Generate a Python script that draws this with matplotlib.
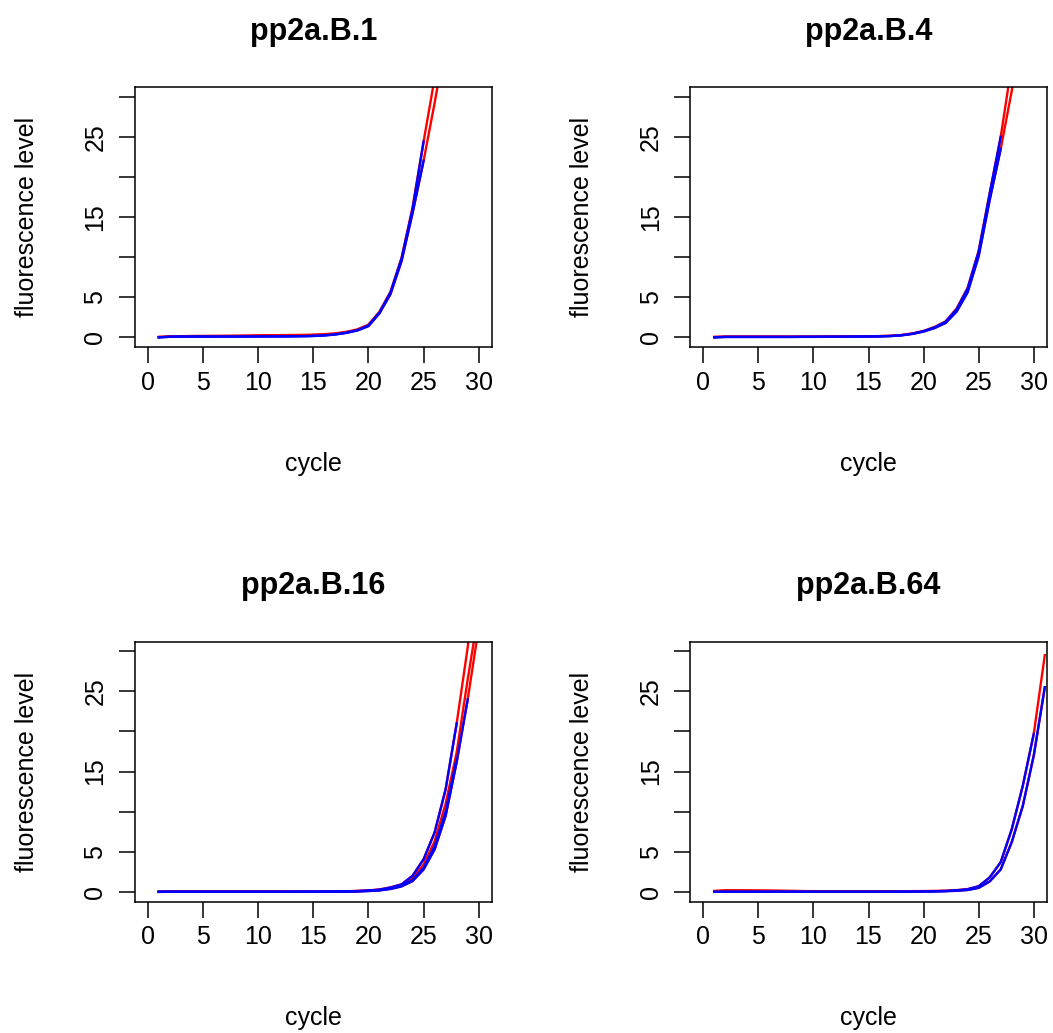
import numpy as np
import matplotlib
matplotlib.use("Agg")
import matplotlib.pyplot as plt

plt.rcParams['font.family'] = ['Liberation Sans', 'DejaVu Sans']

# fluorescence per cycle, red = raw runs, blue = fitted runs
cycles = np.arange(1, 32)

titles = ["pp2a.B.1", "pp2a.B.4", "pp2a.B.16", "pp2a.B.64"]

b1_red_a = [0.05, 0.12, 0.15, 0.17, 0.18, 0.19, 0.2, 0.21, 0.23, 0.26, 0.27, 0.28, 0.29, 0.31, 0.34, 0.4, 0.5, 0.7, 1.0, 1.6, 3.2, 5.7, 9.9, 16.2, 24.4, 32.3, 40, 46, 50, 52, 53]
b1_red_b = [0.05, 0.1, 0.12, 0.13, 0.14, 0.15, 0.15, 0.16, 0.17, 0.2, 0.21, 0.22, 0.23, 0.25, 0.28, 0.33, 0.42, 0.6, 0.9, 1.4, 3.0, 5.4, 9.5, 15.5, 22.0, 29.2, 37, 44, 48, 50, 51]
b1_blue_a = [0.0, 0.08, 0.1, 0.1, 0.1, 0.1, 0.1, 0.1, 0.11, 0.11, 0.12, 0.12, 0.13, 0.15, 0.18, 0.25, 0.38, 0.6, 0.9, 1.5, 3.1, 5.6, 9.8, 16.0, 24.4]
b1_blue_b = [0.0, 0.07, 0.09, 0.09, 0.09, 0.09, 0.09, 0.09, 0.1, 0.1, 0.11, 0.11, 0.12, 0.14, 0.17, 0.23, 0.35, 0.55, 0.85, 1.4, 3.0, 5.4, 9.5, 15.5, 22.0]

b4_red_a = [0.05, 0.1, 0.1, 0.1, 0.1, 0.1, 0.1, 0.1, 0.1, 0.11, 0.11, 0.12, 0.12, 0.13, 0.14, 0.16, 0.2, 0.3, 0.5, 0.8, 1.3, 2.0, 3.6, 6.2, 10.8, 18.0, 25.0, 34.0, 42, 48, 51]
b4_red_b = [0.05, 0.08, 0.08, 0.08, 0.08, 0.08, 0.08, 0.08, 0.09, 0.09, 0.1, 0.1, 0.11, 0.12, 0.13, 0.15, 0.18, 0.27, 0.45, 0.75, 1.2, 1.8, 3.3, 5.7, 10.2, 17.2, 23.5, 30.7, 39, 46, 49]
b4_blue_a = [0.0, 0.06, 0.06, 0.06, 0.06, 0.06, 0.06, 0.06, 0.07, 0.07, 0.08, 0.08, 0.09, 0.1, 0.11, 0.13, 0.17, 0.27, 0.46, 0.78, 1.25, 1.95, 3.5, 6.1, 10.7, 17.9, 25.0]
b4_blue_b = [0.0, 0.05, 0.05, 0.05, 0.05, 0.05, 0.05, 0.05, 0.06, 0.06, 0.07, 0.07, 0.08, 0.09, 0.1, 0.12, 0.16, 0.25, 0.43, 0.72, 1.15, 1.8, 3.2, 5.6, 10.1, 17.1, 23.5]

b16_red_a = [0.02, 0.03, 0.03, 0.03, 0.03, 0.03, 0.03, 0.03, 0.03, 0.03, 0.03, 0.03, 0.03, 0.04, 0.04, 0.05, 0.06, 0.08, 0.12, 0.18, 0.3, 0.56, 0.94, 2.0, 4.06, 7.4, 12.8, 21.0, 30.5, 45, 55]
b16_red_b = [0.02, 0.03, 0.03, 0.03, 0.03, 0.03, 0.03, 0.03, 0.03, 0.03, 0.03, 0.03, 0.03, 0.04, 0.04, 0.05, 0.06, 0.07, 0.1, 0.15, 0.25, 0.45, 0.8, 1.65, 3.4, 6.3, 11.0, 17.4, 26.5, 35.0, 45]
b16_red_c = [0.02, 0.03, 0.03, 0.03, 0.03, 0.03, 0.03, 0.03, 0.03, 0.03, 0.03, 0.03, 0.03, 0.03, 0.04, 0.04, 0.05, 0.06, 0.08, 0.12, 0.2, 0.38, 0.7, 1.35, 2.8, 5.3, 9.5, 16.2, 24.0, 33.0, 45]
b16_blue_a = [0.0, 0.01, 0.01, 0.01, 0.01, 0.01, 0.01, 0.01, 0.01, 0.01, 0.01, 0.01, 0.01, 0.02, 0.02, 0.03, 0.04, 0.06, 0.1, 0.16, 0.28, 0.54, 0.92, 2.0, 4.06, 7.4, 12.8, 21.0]
b16_blue_b = [0.0, 0.01, 0.01, 0.01, 0.01, 0.01, 0.01, 0.01, 0.01, 0.01, 0.01, 0.01, 0.01, 0.02, 0.02, 0.03, 0.04, 0.05, 0.08, 0.13, 0.22, 0.42, 0.74, 1.45, 3.0, 5.7, 10.0, 16.6]
b16_blue_c = [0.0, 0.01, 0.01, 0.01, 0.01, 0.01, 0.01, 0.01, 0.01, 0.01, 0.01, 0.01, 0.01, 0.01, 0.02, 0.02, 0.03, 0.04, 0.06, 0.1, 0.18, 0.36, 0.68, 1.35, 2.8, 5.3, 9.5, 16.2, 24.0]

b64_red_a = [0.1, 0.2, 0.2, 0.19, 0.18, 0.16, 0.14, 0.12, 0.1, 0.09, 0.08, 0.08, 0.08, 0.08, 0.08, 0.08, 0.08, 0.08, 0.09, 0.1, 0.12, 0.15, 0.22, 0.35, 0.7, 1.8, 3.7, 7.8, 13.2, 19.7, 29.5]
b64_red_b = [0.1, 0.15, 0.15, 0.14, 0.13, 0.12, 0.11, 0.1, 0.09, 0.08, 0.07, 0.07, 0.07, 0.07, 0.07, 0.07, 0.07, 0.07, 0.07, 0.08, 0.09, 0.11, 0.16, 0.25, 0.5, 1.3, 2.8, 6.2, 10.7, 17.0, 25.5]
b64_blue_a = [0.0, 0.02, 0.02, 0.02, 0.02, 0.02, 0.02, 0.02, 0.02, 0.02, 0.02, 0.02, 0.02, 0.02, 0.02, 0.02, 0.03, 0.03, 0.04, 0.05, 0.07, 0.11, 0.19, 0.33, 0.7, 1.8, 3.7, 7.8, 13.2, 19.7]
b64_blue_b = [0.0, 0.02, 0.02, 0.02, 0.02, 0.02, 0.02, 0.02, 0.02, 0.02, 0.02, 0.02, 0.02, 0.02, 0.02, 0.02, 0.02, 0.03, 0.03, 0.04, 0.05, 0.08, 0.13, 0.23, 0.5, 1.3, 2.8, 6.2, 10.7, 17.0, 25.5]

red_sets = [[b1_red_a, b1_red_b], [b4_red_a, b4_red_b],
            [b16_red_a, b16_red_b, b16_red_c], [b64_red_a, b64_red_b]]
blue_sets = [[b1_blue_a, b1_blue_b], [b4_blue_a, b4_blue_b],
             [b16_blue_a, b16_blue_b, b16_blue_c], [b64_blue_a, b64_blue_b]]

W, H = 1053, 1033
fig = plt.figure(figsize=(W / 100, H / 100), dpi=100)

# box positions in pixels: left, top, right, bottom
boxes = [(134.5, 87, 492, 347), (690, 87, 1047, 347),
         (134.5, 641.5, 492, 901.5), (690, 641.5, 1047, 901.5)]

for i in range(4):
    l, t, r, b = boxes[i]
    ax = fig.add_axes([l / W, 1 - b / H, (r - l) / W, (b - t) / H])
    for ys in red_sets[i]:
        ax.plot(cycles[:len(ys)], ys, color='red', lw=1.7)
    for ys in blue_sets[i]:
        ax.plot(cycles[:len(ys)], ys, color='blue', lw=1.7)
    ax.set_xlim(-1.2, 31.2)
    ax.set_ylim(-1.2, 31.2)
    for s in ax.spines.values():
        s.set_linewidth(1.1)
    ax.set_xticks([0, 5, 10, 15, 20, 25, 30])
    ax.set_yticks([0, 5, 10, 15, 20, 25, 30])
    ax.set_yticklabels(['0', '5', '', '15', '', '25', ''], rotation=90, va='center')
    ax.tick_params(length=11.5, width=1.1, labelsize=18, pad=5.5)
    ax.tick_params(axis='y', pad=8)
    ax.set_title(titles[i], fontsize=22, fontweight='bold', pad=34)
    ax.set_xlabel('cycle', fontsize=18, labelpad=41)
    ax.set_ylabel('fluorescence level', fontsize=18, labelpad=32)

fig.savefig('out.png', dpi=100)
